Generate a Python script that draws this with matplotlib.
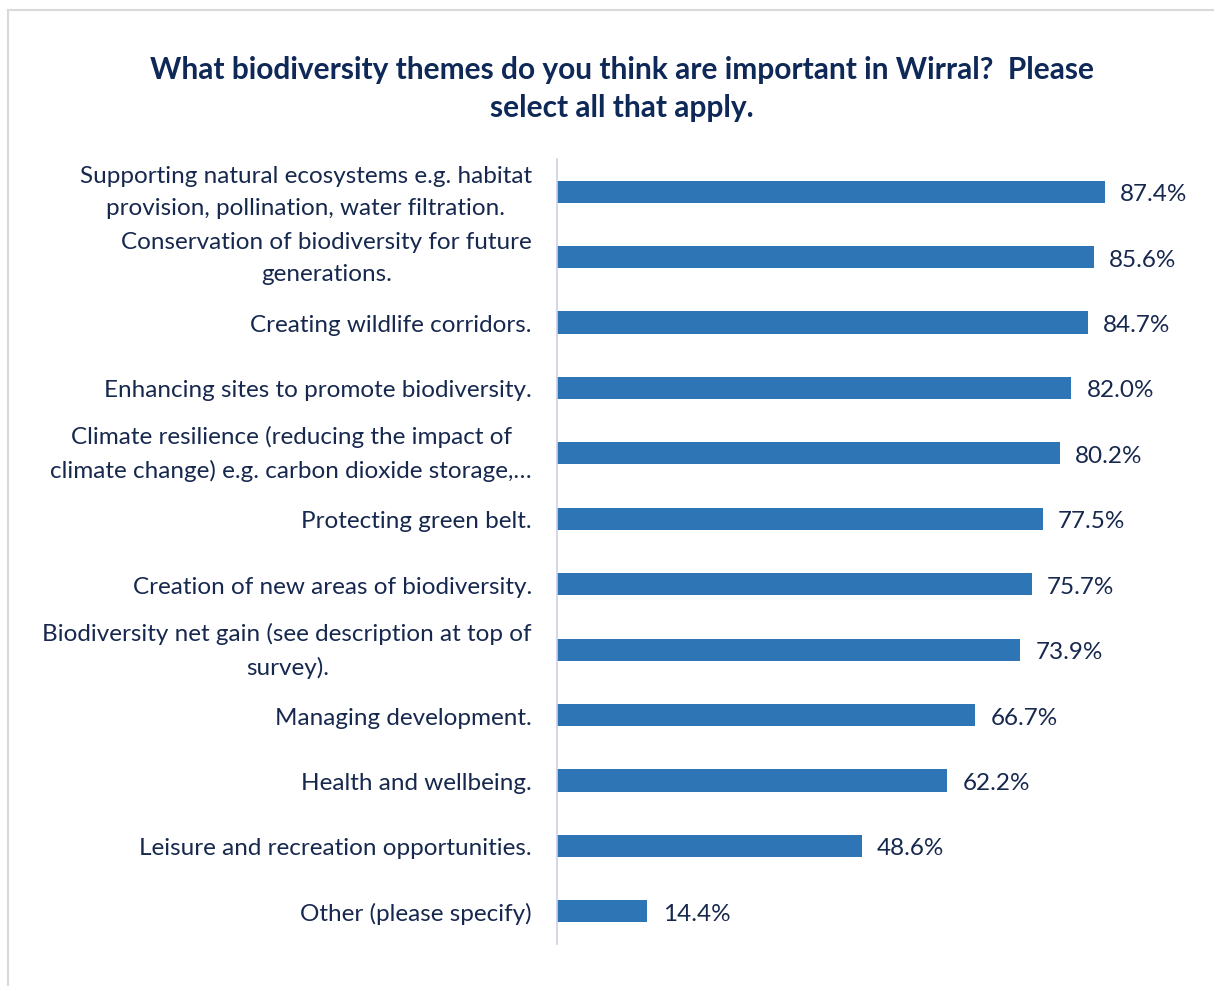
import matplotlib
matplotlib.use('Agg')
import matplotlib.pyplot as plt
from matplotlib.lines import Line2D

plt.rcParams['font.family'] = ['Lato', 'DejaVu Sans']

themes = [
    'Supporting natural ecosystems e.g. habitat\nprovision, pollination, water filtration.',
    'Conservation of biodiversity for future\ngenerations.',
    'Creating wildlife corridors.',
    'Enhancing sites to promote biodiversity.',
    'Climate resilience (reducing the impact of\nclimate change) e.g. carbon dioxide storage,\u2026',
    'Protecting green belt.',
    'Creation of new areas of biodiversity.',
    'Biodiversity net gain (see description at top of\nsurvey).',
    'Managing development.',
    'Health and wellbeing.',
    'Leisure and recreation opportunities.',
    'Other (please specify)',
]
percent = [87.4, 85.6, 84.7, 82.0, 80.2, 77.5, 75.7, 73.9, 66.7, 62.2, 48.6, 14.4]

W, H = 1214, 987
navy = '#0e2857'
text_col = '#17284f'
bar_col = '#2e75b6'

fig = plt.figure(figsize=(W / 100, H / 100), dpi=100)

# chart area border (runs off the right and bottom edge)
fig.add_artist(Line2D([7.5 / W, 7.5 / W], [0, 1 - 11 / H], color='#d9d9d9', lw=1.5))
fig.add_artist(Line2D([7.5 / W, 1], [1 - 11 / H, 1 - 11 / H], color='#d9d9d9', lw=1.5))

ax = fig.add_axes([557 / W, 42 / H, 627 / W, 785 / H])
pos = list(range(len(themes)))
ax.barh(pos, percent, height=0.34, color=bar_col)
ax.set_xlim(0, 100)
ax.set_ylim(len(themes) - 0.5, -0.5)

for p, v in zip(pos, percent):
    ax.annotate('%.1f%%' % v, (v, p), xytext=(11, 0), textcoords='offset points',
                va='center_baseline', ha='left', fontsize=17.5, color=text_col)

ax.set_yticks(pos)
ax.set_yticklabels(themes, fontsize=17.5, color=text_col)
for lab in ax.get_yticklabels():
    lab.set_multialignment('center')
    if '\n' in lab.get_text():
        lab.set_linespacing(1.65)
        lab.set_verticalalignment('center')
ax.tick_params(axis='y', length=0, pad=18)
ax.set_xticks([])
for s in ['top', 'right', 'bottom']:
    ax.spines[s].set_visible(False)
ax.spines['left'].set_color('#cfcde6')
ax.spines['left'].set_linewidth(1.2)

fig.text(622 / W, 1 - 89 / H,
         'What biodiversity themes do you think are important in Wirral?  Please\nselect all that apply.',
         ha='center', va='center', fontsize=21.5, fontweight='bold', color=navy,
         linespacing=1.47)

fig.savefig('out.png', dpi=100)
